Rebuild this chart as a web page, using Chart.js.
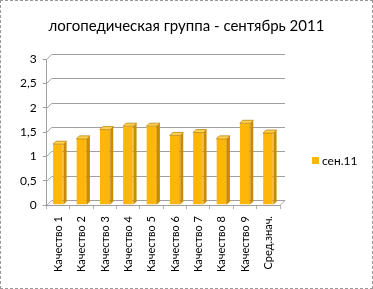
<!DOCTYPE html>
<html><head><meta charset="utf-8">
<script src="https://cdn.jsdelivr.net/npm/chart.js@4/dist/chart.umd.min.js"></script>
<style>
html,body{margin:0;padding:0;background:#fff;}
#wrap{position:relative;width:371px;height:287px;border:1px dashed #999;}
canvas{display:block;}
</style></head>
<body><div id="wrap"><canvas id="c" width="371" height="287"></canvas></div>
<script>
const categories = ["Качество 1","Качество 2","Качество 3","Качество 4","Качество 5","Качество 6","Качество 7","Качество 8","Качество 9","Сред.знач."];
const seriesName = "сен.11";
const values = [1.25, 1.36, 1.55, 1.62, 1.62, 1.43, 1.49, 1.36, 1.68, 1.48];
const titleText = "логопедическая группа - сентябрь 2011";

const D = 5; // 3D depth offset
const BAR_COLOR = '#FFB60A';

const wall3d = {
  id: 'wall3d',
  beforeDatasetsDraw(chart) {
    const ctx = chart.ctx, ca = chart.chartArea, y = chart.scales.y;
    ctx.save();
    ctx.strokeStyle = '#A0A0A0'; ctx.lineWidth = 1;
    y.ticks.forEach(t => {
      const py = Math.round(y.getPixelForValue(t.value)) + 0.5;
      ctx.beginPath();
      ctx.moveTo(ca.left, py);
      ctx.lineTo(ca.left + D, py - D);
      ctx.lineTo(ca.right + D, py - D);
      ctx.stroke();
    });
    const b = Math.round(y.getPixelForValue(0)) + 0.5;
    ctx.beginPath();
    ctx.moveTo(ca.left, b); ctx.lineTo(ca.right, b); ctx.lineTo(ca.right + D, b - D);
    ctx.stroke();
    ctx.restore();
  },
  afterDatasetsDraw(chart) {
    const ctx = chart.ctx;
    const meta = chart.getDatasetMeta(0);
    const d = 3;
    meta.data.forEach(el => {
      const p = el.getProps(['x','y','base','width'], true);
      const l = p.x - p.width/2, r = p.x + p.width/2;
      ctx.save();
      ctx.fillStyle = '#C98B00';
      ctx.beginPath();
      ctx.moveTo(r, p.y); ctx.lineTo(r+d, p.y-d); ctx.lineTo(r+d, p.base-d); ctx.lineTo(r, p.base);
      ctx.closePath(); ctx.fill();
      ctx.fillStyle = '#FFD24D';
      ctx.beginPath();
      ctx.moveTo(l, p.y); ctx.lineTo(l+d, p.y-d); ctx.lineTo(r+d, p.y-d); ctx.lineTo(r, p.y);
      ctx.closePath(); ctx.fill();
      ctx.strokeStyle = '#B07800'; ctx.lineWidth = 0.7;
      ctx.stroke();
      ctx.restore();
    });
  },
  afterDraw(chart) {
    const ctx = chart.ctx, ca = chart.chartArea;
    const cy = Math.round((ca.top + ca.bottom) / 2) + 29;
    const x = ca.right + 32;
    ctx.save();
    ctx.fillStyle = BAR_COLOR;
    ctx.fillRect(x, cy - 4, 7, 7);
    ctx.fillStyle = '#000';
    ctx.font = '12px Lato';
    ctx.textBaseline = 'middle';
    ctx.fillText(chart.data.datasets[0].label, x + 10, cy);
    ctx.restore();
  }
};

new Chart(document.getElementById('c'), {
  type: 'bar',
  data: {
    labels: categories,
    datasets: [{
      label: seriesName,
      data: values,
      backgroundColor: BAR_COLOR,
      borderColor: '#D49400',
      borderWidth: {left:0, right:1, top:0, bottom:0},
      categoryPercentage: 1,
      barPercentage: 0.45
    }]
  },
  options: {
    responsive: false,
    animation: false,
    layout: { padding: { left: 13, right: 13, top: 4, bottom: 9 } },
    plugins: {
      title: { display: true, text: titleText, color: '#000', font: { family: 'Lato', size: 15, weight: 'normal' }, padding: { top: 12, bottom: 24 } },
      legend: { display: false },
      tooltip: { enabled: false }
    },
    scales: {
      y: {
        min: 0, max: 3,
        ticks: { stepSize: 0.5, color: '#000', padding: 6, font: { family: 'Lato', size: 12 }, callback: v => String(v).replace('.', ',') },
        grid: { color: '#A0A0A0', drawOnChartArea: false, tickLength: 4 },
        border: { color: '#A0A0A0' }
      },
      yRight: {
        position: 'right',
        min: 0, max: 3,
        display: true,
        ticks: { display: false },
        grid: { display: false },
        border: { display: false },
        afterFit(scale) { scale.width = 79; }
      },
      x: {
        ticks: { color: '#000', padding: 7, font: { family: 'Lato', size: 11 }, minRotation: 90, maxRotation: 90, autoSkip: false },
        grid: { display: true, color: '#B0B0B0', drawOnChartArea: false, tickLength: 4 },
        border: { display: false }
      }
    }
  },
  plugins: [wall3d]
});
</script></body></html>
